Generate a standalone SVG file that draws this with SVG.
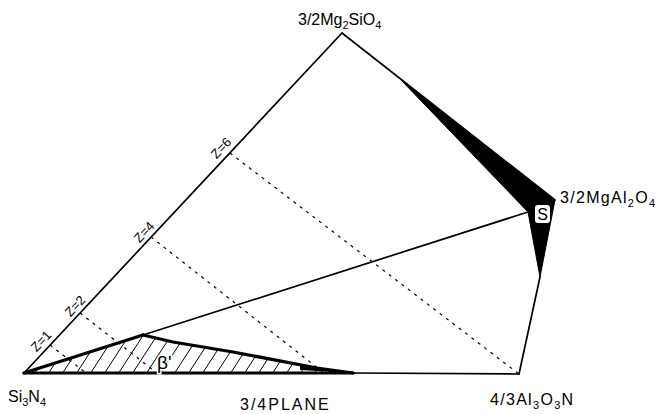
<svg xmlns="http://www.w3.org/2000/svg" width="661" height="414" viewBox="0 0 661 414">
<style>
.thin{fill:none;stroke:#000;stroke-width:1.7;stroke-linecap:round;stroke-linejoin:round}
.thick{fill:none;stroke:#000;stroke-width:3.2;stroke-linecap:round;stroke-linejoin:round}
.dash{fill:none;stroke:#000;stroke-width:1.2;stroke-dasharray:3 5}
.hatch{fill:none;stroke:#000;stroke-width:1}
.lbl{font-family:"Liberation Sans",Arial,sans-serif;font-size:16px;fill:#000}
.sub{font-size:11px}
.z{font-family:"Liberation Sans",Arial,sans-serif;font-size:13px;fill:#000;text-anchor:middle}
</style>
<defs>
<clipPath id="betaClip">
<polygon points="24,373 143,335 173,342 233,352 317,368 353,373"/>
</clipPath>
</defs>
<rect width="661" height="414" fill="#fff"/>
<g id="connectors">
<line class="dash" x1="50" y1="345" x2="86" y2="373"/>
<line class="dash" x1="80" y1="313" x2="157" y2="373"/>
<line class="dash" x1="151" y1="237" x2="324" y2="373"/>
<line class="dash" x1="230" y1="153" x2="519" y2="374"/>
<g clip-path="url(#betaClip)">
<line class="hatch" x1="34" y1="374" x2="60" y2="334"/>
<line class="hatch" x1="48" y1="374" x2="74" y2="334"/>
<line class="hatch" x1="62" y1="374" x2="88" y2="334"/>
<line class="hatch" x1="76" y1="374" x2="102" y2="334"/>
<line class="hatch" x1="90" y1="374" x2="116" y2="334"/>
<line class="hatch" x1="104" y1="374" x2="130" y2="334"/>
<line class="hatch" x1="118" y1="374" x2="144" y2="334"/>
<line class="hatch" x1="132" y1="374" x2="158" y2="334"/>
<line class="hatch" x1="146" y1="374" x2="172" y2="334"/>
<line class="hatch" x1="160" y1="374" x2="186" y2="334"/>
<line class="hatch" x1="174" y1="374" x2="200" y2="334"/>
<line class="hatch" x1="188" y1="374" x2="214" y2="334"/>
<line class="hatch" x1="202" y1="374" x2="228" y2="334"/>
<line class="hatch" x1="216" y1="374" x2="242" y2="334"/>
<line class="hatch" x1="230" y1="374" x2="256" y2="334"/>
<line class="hatch" x1="244" y1="374" x2="270" y2="334"/>
<line class="hatch" x1="258" y1="374" x2="284" y2="334"/>
<line class="hatch" x1="272" y1="374" x2="298" y2="334"/>
<line class="hatch" x1="286" y1="374" x2="312" y2="334"/>
<line class="hatch" x1="300" y1="374" x2="326" y2="334"/>
<line class="hatch" x1="314" y1="374" x2="340" y2="334"/>
<line class="hatch" x1="328" y1="374" x2="354" y2="334"/>
</g>
<line class="thin" x1="24" y1="373" x2="342" y2="33"/>
<line class="thin" x1="342" y1="33" x2="555" y2="200"/>
<line class="thin" x1="353" y1="373" x2="519" y2="374"/>
<line class="thin" x1="540" y1="277" x2="519" y2="374"/>
<line class="thin" x1="143" y1="335" x2="528" y2="212"/>
<line class="thick" x1="24" y1="373" x2="353" y2="373"/>
<line class="thick" x1="24" y1="373" x2="143" y2="335"/>
<polyline class="thick" points="143,335 173,342 233,352 317,368 353,373"/>
<polygon points="300,365 353,373 300,370" fill="#000"/>
</g>
<g id="spinel-region">
<polygon points="401,80 555,200 540,277 528,212" fill="#000" stroke="#000" stroke-width="1" stroke-linejoin="round"/>
</g>
<g id="node-S">
<rect x="535" y="205" width="15" height="18" rx="3" fill="#fff"/>
<text class="lbl" x="542.5" y="220" text-anchor="middle">S</text>
</g>
<g id="node-beta">
<text class="lbl" x="157" y="369" style="font-size:19px" stroke="#fff" stroke-width="3" paint-order="stroke">β'</text>
</g>
<g id="node-Mg2SiO4">
<text class="lbl" x="298" y="25">3/2Mg<tspan class="sub" dy="4">2</tspan><tspan dy="-4">SiO</tspan><tspan class="sub" dy="4">4</tspan></text>
</g>
<g id="node-MgAl2O4">
<text class="lbl" x="560" y="203" letter-spacing="1.3">3/2MgAl<tspan class="sub" dy="4">2</tspan><tspan dy="-4">O</tspan><tspan class="sub" dy="4">4</tspan></text>
</g>
<g id="node-Si3N4">
<text class="lbl" x="8" y="402">Si<tspan class="sub" dy="4">3</tspan><tspan dy="-4">N</tspan><tspan class="sub" dy="4">4</tspan></text>
</g>
<g id="node-Al3O3N">
<text class="lbl" x="490" y="405" letter-spacing="1.3">4/3Al<tspan class="sub" dy="4">3</tspan><tspan dy="-4">O</tspan><tspan class="sub" dy="4">3</tspan><tspan dy="-4">N</tspan></text>
</g>
<g id="plane-label">
<text class="lbl" x="240" y="410" letter-spacing="2">3/4PLANE</text>
</g>
<g id="z-labels">
<text class="z" transform="translate(41,341) rotate(-47)" y="4.5">Z=1</text>
<text class="z" transform="translate(75,306) rotate(-47)" y="4.5">Z=2</text>
<text class="z" transform="translate(144,232) rotate(-47)" y="4.5">Z=4</text>
<text class="z" transform="translate(221,148) rotate(-47)" y="4.5">Z=6</text>
</g>
</svg>
